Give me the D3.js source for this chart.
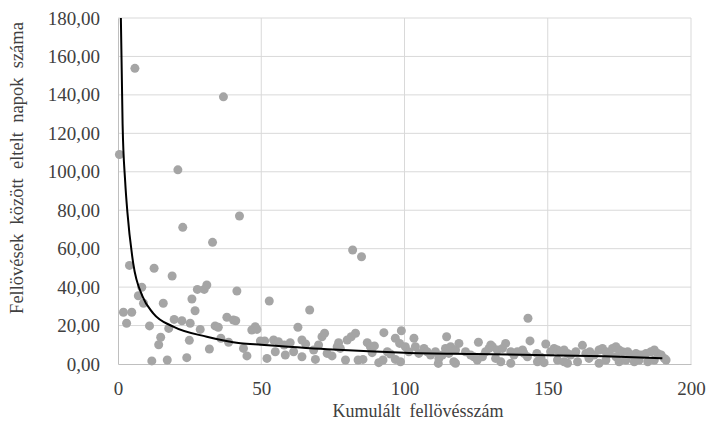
<!DOCTYPE html>
<html>
<head>
<meta charset="utf-8">
<script src="https://cdn.jsdelivr.net/npm/d3@7"></script>
<style>
  body { margin: 0; background: #fff; }
  text { font-family: "Liberation Serif", "Times New Roman", serif; fill: #404040; }
</style>
</head>
<body>
<div id="chart"></div>
<script>
// values
const shotX = [
  0.5, 1.9, 3, 4, 4.8, 5.9, 7.1, 8.3, 8.9, 11, 11.8, 12.6, 14.2, 14.9, 15.8, 17.2, 17.7, 18.9, 19.6, 20.9,
  22.3, 22.6, 24, 24.9, 25.2, 25.8, 26.9, 27.7, 28.7, 30.1, 31, 31.9, 33, 33.9, 35, 35.9, 36.8, 38, 38.6, 40.3,
  41.1, 41.5, 42.4, 43.8, 45, 46.7, 47.9, 48.5, 49.7, 51.2, 52, 52.8, 54.3, 54.9, 56, 58, 58.4, 60.1, 61.3, 62.8,
  64.2, 64.2, 65.5, 66.9, 68.3, 68.9, 70, 71.2, 72.1, 73, 74.7, 76.5, 77, 77.6, 79.4, 80, 81.4, 81.9, 82.9, 83.8,
  85, 85.5, 87, 88.1, 88.7, 89.5, 91, 92.5, 92.8, 94, 95.1, 96.8, 96.8, 98.3, 98.6, 98.9, 100.3, 101.5, 103.3, 103.8,
  105, 106.8, 107.9, 109.1, 110.8, 111.8, 112, 113.2, 114.3, 114.7, 115.5, 116.1, 117.2, 117.8, 117.8, 119, 121.3, 123.1, 124.2, 125.4,
  125.8, 127.2, 128.3, 129.5, 130.1, 130.7, 131.8, 132.4, 133.6, 134.2, 135.3, 137.1, 137.1, 138.2, 139.4, 141.2, 141.7, 142.9, 143.1, 143.8,
  146.2, 146.4, 147.6, 148.7, 149.3, 151, 152.2, 153.4, 153.4, 154.5, 155.7, 155.7, 156.9, 156.9, 158, 159.8, 160.4, 162.1, 163.3, 164.4,
  164.7, 166.2, 167.9, 167.9, 169.1, 170.3, 170.3, 171.4, 172.6, 173.8, 173.8, 174.9, 174.9, 176.1, 177.3, 177.9, 179, 180.2, 180.8, 181.9,
  182.5, 184.3, 184.9, 186, 187.2, 187.2, 188.4, 189.6, 190.7, 191.3
];
const daysY = [
  109, 26.9, 21.2, 51.3, 26.9, 153.8, 35.5, 39.9, 31.6, 19.8, 1.6, 49.8, 10, 13.9, 31.6, 2.1, 18.5, 45.8, 23.2, 101,
  22.5, 71.1, 3.3, 12.3, 21.2, 33.8, 27.7, 38.8, 18, 38.8, 41.1, 7.8, 63.3, 19.8, 19.1, 13.4, 139, 24.3, 11.3, 22.9,
  22.5, 38, 77, 8.1, 4.2, 17.7, 19.4, 18, 12, 12, 2.9, 32.8, 12.5, 6.4, 11.6, 9.9, 4.7, 11.1, 6.4, 19.1,
  3.8, 12.5, 10.4, 28.1, 7.3, 2.4, 9.9, 14.2, 16, 5.5, 4.2, 9, 11.1, 8.1, 2.1, 12.5, 14.2, 59.3, 16, 2.1,
  55.8, 2.4, 11.1, 9, 5.9, 9.4, 0.7, 2.1, 16.3, 6.4, 5.2, 13.4, 2.4, 10.7, 1.2, 17.3, 9, 6.4, 13.4, 9,
  5.5, 8.1, 6.4, 4.7, 6.4, 0.3, 2.9, 4.7, 8.1, 14.2, 5.5, 9, 1.2, 0.4, 7.3, 10.7, 6.4, 4.7, 3.8, 2.1,
  11.3, 3.8, 6.4, 8.1, 9.9, 9, 2.9, 7.3, 1.2, 8.1, 10.7, 6.4, 0.4, 4.7, 6.4, 7.3, 5.5, 3.8, 23.8, 12,
  5.5, 1.2, 3.5, 0.7, 10.4, 6.4, 8.1, 7.3, 2.1, 6.4, 7.3, 1.2, 5.5, 0.4, 4.7, 6.4, 1.2, 9.7, 5.5, 2.9,
  6.4, 4.7, 7.3, 0.4, 8.1, 6.4, 2.1, 5.5, 8.1, 9, 3.8, 7.3, 1.2, 6.4, 2.1, 6.4, 4.7, 1.2, 5.5, 2.1,
  4.7, 5.5, 1.2, 6.4, 7.3, 2.1, 5.5, 4.7, 2.9, 2.1
];

// trend curve, read at a few points
const trendX = [1, 1.6, 2.5, 3.3, 5.3, 8.6, 12.3, 19.3, 31, 42.7, 50, 75, 100, 125, 150, 170, 190];
const trendY = [180, 125, 95, 78.6, 52.5, 35, 26.4, 19.4, 14.2, 10.8, 10, 7.5, 5.9, 5.2, 4.6, 4.0, 3.0];

const yTicks = [0, 20, 40, 60, 80, 100, 120, 140, 160, 180];
const xTicks = [0, 50, 100, 150, 200];
const xTitle = "Kumulált  fellövésszám";
const yTitle = "Fellövések  között  eltelt  napok  száma";

const W = 706, H = 431;
const margin = { top: 18, right: 15, bottom: 67, left: 118 };
const width = W - margin.left - margin.right;
const height = H - margin.top - margin.bottom;

const huLocale = d3.formatLocale({ decimal: ",", thousands: " ", grouping: [3], currency: ["", ""] });
const fmt = huLocale.format(".2f");

const svgRoot = d3.select("#chart").append("svg").attr("width", W).attr("height", H);
const svg = svgRoot.append("g").attr("transform", `translate(${margin.left}, ${margin.top})`);

const x = d3.scaleLinear().domain([0, 200]).range([0, width]);
const y = d3.scaleLinear().domain([0, 180]).range([height, 0]);

svgRoot.append("defs").append("clipPath").attr("id", "plot-clip")
  .append("rect").attr("width", width).attr("height", height);

// gridlines
svg.append("g")
  .selectAll("line.hgrid")
  .data(yTicks.filter((d) => d > 0))
  .enter()
  .append("line")
  .attr("x1", 0).attr("x2", width)
  .attr("y1", (d) => y(d)).attr("y2", (d) => y(d))
  .attr("stroke", "#d9d9d9").attr("stroke-width", 1);

svg.append("g")
  .selectAll("line.vgrid")
  .data(xTicks.filter((d) => d > 0))
  .enter()
  .append("line")
  .attr("x1", (d) => x(d)).attr("x2", (d) => x(d))
  .attr("y1", 0).attr("y2", height)
  .attr("stroke", "#d9d9d9").attr("stroke-width", 1);

// axes
const xAxis = d3.axisBottom(x).tickValues(xTicks).tickSize(0).tickPadding(18);
const yAxis = d3.axisLeft(y).tickValues(yTicks).tickSize(0).tickPadding(18).tickFormat(fmt);

const gx = svg.append("g").attr("transform", `translate(0, ${height})`).call(xAxis);
const gy = svg.append("g").call(yAxis);
gx.select(".domain").attr("stroke", "#bfbfbf");
gy.select(".domain").attr("stroke", "#bfbfbf");
svg.selectAll(".tick text")
  .style("font-family", '"Liberation Serif", "Times New Roman", serif')
  .style("font-size", "19px")
  .attr("fill", "#404040");

// points
svg.append("g")
  .selectAll("circle")
  .data(shotX.map((v, i) => [v, daysY[i]]))
  .enter()
  .append("circle")
  .attr("cx", (d) => x(d[0]))
  .attr("cy", (d) => y(d[1]))
  .attr("r", 4.5)
  .attr("fill", "#a5a5a5");

// trend line
const line = d3.line()
  .x((d) => x(d[0]))
  .y((d) => y(d[1]))
  .curve(d3.curveMonotoneX);

svg.append("path")
  .datum(trendX.map((v, i) => [v, trendY[i]]))
  .attr("clip-path", "url(#plot-clip)")
  .attr("d", line)
  .attr("fill", "none")
  .attr("stroke", "#000")
  .attr("stroke-width", 2);

// titles
svgRoot.append("text")
  .attr("x", 418)
  .attr("y", 417)
  .attr("text-anchor", "middle")
  .style("font-size", "18px")
  .style("white-space", "pre")
  .text(xTitle);

svgRoot.append("text")
  .attr("transform", "translate(23, 168) rotate(-90)")
  .attr("text-anchor", "middle")
  .style("font-size", "18.5px")
  .style("white-space", "pre")
  .text(yTitle);
</script>
</body>
</html>
